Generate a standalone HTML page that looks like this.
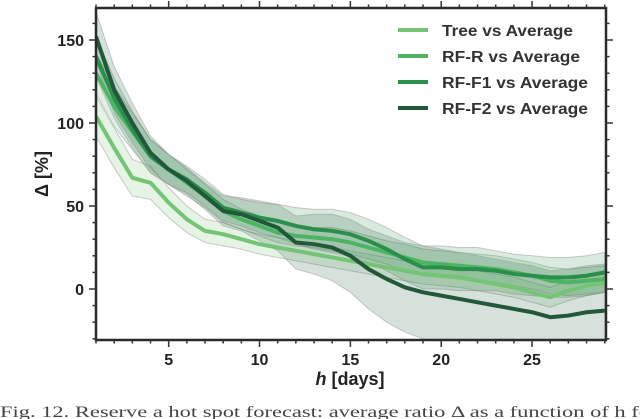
<!DOCTYPE html>
<html><head><meta charset="utf-8">
<style>
body{margin:0;background:#fff;width:640px;height:419px;overflow:hidden;}
svg{display:block;font-family:"Liberation Sans",sans-serif;}
</style></head>
<body>
<svg id="chart" width="640" height="419"></svg>
<script>
const days=[1,2,3,4,5,6,7,8,9,10,11,12,13,14,15,16,17,18,19,20,21,22,23,24,25,26,27,28,29];
const seriesNames=["Tree vs Average","RF-R vs Average","RF-F1 vs Average","RF-F2 vs Average"];
const treeVals=[104,85,67,64,52,42,35,33,30,27,25,23,21,19,17,15,13,11,9,8,7,5,3,1,-2,-5,-1,2,4];
const rfrVals=[130,110,95,80,72,64,56,47,42,38,34,32,31,30,28,25,22,19,16,15,14,13,12,10,8,5,4,5,6];
const rff1Vals=[140,115,96,80,72,66,58,49,46,43,41,38,36,35,33,29,24,18,13,13,12,12,11,9,8,7,7,8,10];
const rff2Vals=[152,120,100,82,72,65,56,47,45,41,37,28,27,25,20,12,6,1,-2,-4,-6,-8,-10,-12,-14,-17,-16,-14,-13];
const treeSpread=[12,12,11,10,9,8,7,7,6,6,6,6,6,6,6,6,6,6,6,6,6,6,6,6,6,6,6,6,6];
const rfrSpread=[12,12,11,10,9,8,7,7,6,6,6,6,6,7,7,7,7,8,8,8,8,8,8,8,8,8,8,8,8];
const rff1Spread=[12,12,11,10,9,8,8,8,8,9,10,11,12,13,13,13,13,13,13,13,13,13,12,12,12,12,12,12,12];
const rff2Spread=[15,14,12,10,9,8,8,9,10,12,14,16,18,20,22,24,26,27,28,28,28,28,28,28,28,28,28,28,28];
const yTicks=[0,50,100,150];
const xTicks=[5,10,15,20,25];

const L=96,R=606,T=8,B=340;
const X=d=>L+(d-1)*(R-L)/28.07;
const Y=v=>289-v*1.66;
const NS="http://www.w3.org/2000/svg";
const svg=document.getElementById('chart');
function mk(tag,attrs,parent){const e=document.createElementNS(NS,tag);for(const k in attrs)e.setAttribute(k,attrs[k]);(parent||svg).appendChild(e);return e;}

const colors=["#74c476","#4cb463","#2a8f4a","#22583a"];
const vals=[treeVals,rfrVals,rff1Vals,rff2Vals];
const spreads=[treeSpread,rfrSpread,rff1Spread,rff2Spread];
const keys=["tree","rf-r","rf-f1","rf-f2"];

const clip=mk('clipPath',{id:'pc'});mk('rect',{x:L,y:T,width:R-L,height:B-T},clip);
const g=mk('g',{'clip-path':'url(#pc)'});
vals.forEach((vs,i)=>{
  let up=days.map((d,j)=>X(d)+','+Y(vs[j]+spreads[i][j]));
  let lo=days.map((d,j)=>X(d)+','+Y(vs[j]-spreads[i][j])).reverse();
  const p=mk('polygon',{points:up.concat(lo).join(' '),fill:colors[i],'fill-opacity':'0.18',stroke:'#999','stroke-opacity':'0.5','stroke-width':'1'},g);
  
  
});
vals.forEach((vs,i)=>{
  const l=mk('polyline',{points:days.map((d,j)=>X(d)+','+Y(vs[j])).join(' '),fill:'none',stroke:colors[i],'stroke-width':'4','stroke-linejoin':'round'},g);
  
  
});

const frame=mk('rect',{x:L,y:T,width:R-L,height:B-T,fill:'none',stroke:'#2a2a2a','stroke-width':'2.5'});



for(let d=1;d<=29;d++){const x=X(d);const maj=xTicks.includes(d);const len=maj?7:3.5;
  mk('line',{x1:x,x2:x,y1:B,y2:B+len,stroke:'#333','stroke-width':1.5});
  mk('line',{x1:x,x2:x,y1:T,y2:T-len,stroke:'#333','stroke-width':1.5});}
for(let v=-30;v<=160;v+=10){const y=Y(v);if(y<T||y>B)continue;const maj=yTicks.includes(v);const len=maj?7:3.5;
  mk('line',{x1:L,x2:L-len,y1:y,y2:y,stroke:'#333','stroke-width':1.5});
  mk('line',{x1:R,x2:R+len,y1:y,y2:y,stroke:'#333','stroke-width':1.5});}
xTicks.forEach(d=>{const t=mk('text',{x:X(d),y:365,'text-anchor':'middle','font-size':'16','font-weight':'bold',fill:'#222'});t.textContent=d;
  });
yTicks.forEach(v=>{const t=mk('text',{x:84,y:Y(v)+6,'text-anchor':'end','font-size':'16','font-weight':'bold',fill:'#222'});t.textContent=v;
  });

const yl=mk('text',{x:48,y:174,'text-anchor':'middle','font-size':'18','font-weight':'bold',fill:'#222',transform:'rotate(-90 48 174)'});
yl.textContent='Δ [%]';

const xl=mk('text',{x:350,y:385,'text-anchor':'middle','font-size':'18','font-weight':'bold',fill:'#222'});
xl.innerHTML='<tspan font-style="italic">h</tspan> [days]';


const legW=[131,138,146,146];
seriesNames.forEach((n,i)=>{const y=30+i*26;
  const lg=mk('g',{});
  
  mk('line',{x1:398,x2:428,y1:y,y2:y,stroke:colors[i],'stroke-width':4},lg);
  const t=mk('text',{x:442,y:y+6,'font-size':'16','font-weight':'bold',fill:'#333',textLength:legW[i],lengthAdjust:'spacingAndGlyphs'},lg);t.textContent=n;});

const cap=mk('text',{x:0,y:417,'font-size':'16',fill:'#444','font-family':'"Liberation Serif",serif',textLength:'650',lengthAdjust:'spacingAndGlyphs'});
cap.textContent='Fig. 12.  Reserve a hot spot forecast: average ratio Δ as a function of h fo';

</script>
</body></html>
